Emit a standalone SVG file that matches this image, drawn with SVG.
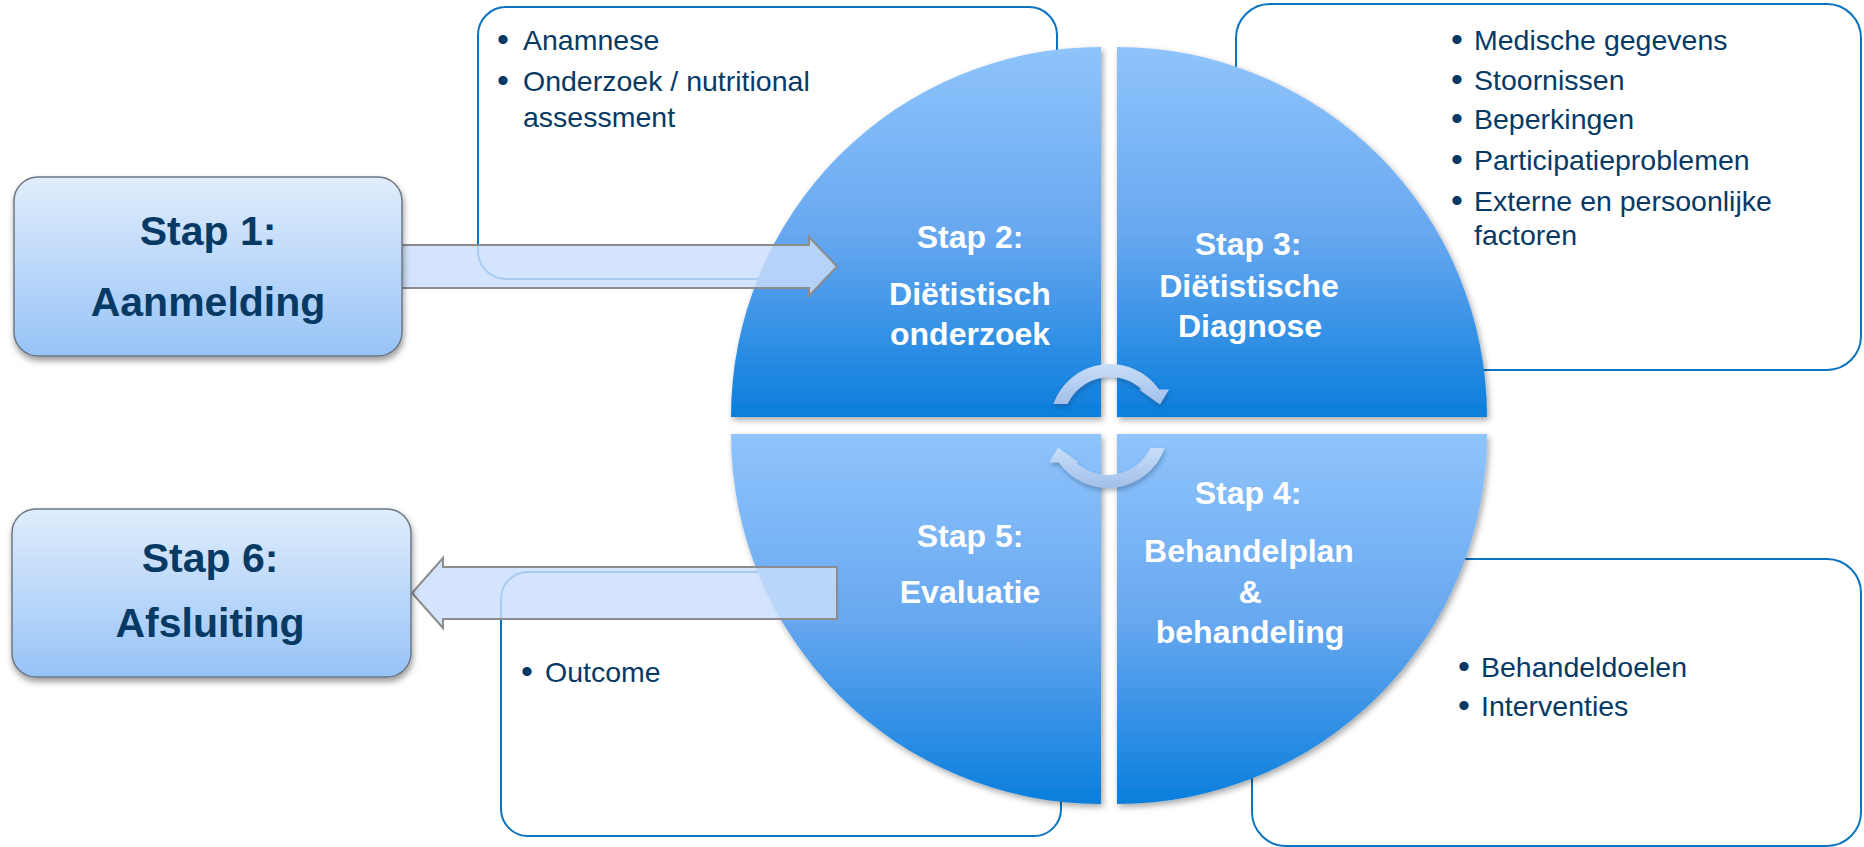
<svg xmlns="http://www.w3.org/2000/svg" width="1864" height="847" viewBox="0 0 1864 847">
<defs>
<linearGradient id="qGrad" x1="0" y1="0" x2="0" y2="1">
<stop offset="0" stop-color="#8fc4fc"/>
<stop offset="0.5" stop-color="#68a8f0"/>
<stop offset="1" stop-color="#0a7edc"/>
</linearGradient>
<linearGradient id="nodeGrad" x1="0" y1="0" x2="0" y2="1">
<stop offset="0" stop-color="#e0edfc"/>
<stop offset="1" stop-color="#97c3f7"/>
</linearGradient>
<linearGradient id="cycGrad" x1="0" y1="0" x2="0" y2="1">
<stop offset="0" stop-color="#c8def9"/>
<stop offset="1" stop-color="#a2bfe8"/>
</linearGradient>
<filter id="shadow" x="-10%" y="-10%" width="125%" height="125%">
<feDropShadow dx="2" dy="3" stdDeviation="3" flood-color="#000" flood-opacity="0.35"/>
</filter>
<filter id="nodeShadow" x="-10%" y="-10%" width="125%" height="130%">
<feDropShadow dx="1" dy="4" stdDeviation="3" flood-color="#000" flood-opacity="0.4"/>
</filter>
<filter id="cycShadow" x="-20%" y="-20%" width="150%" height="160%">
<feDropShadow dx="1" dy="3" stdDeviation="2" flood-color="#203a60" flood-opacity="0.35"/>
</filter>
<style>
.box{fill:#fff;stroke:#0b74c1;stroke-width:2}
.quad{fill:url(#qGrad);filter:url(#shadow)}
.cyc{fill:url(#cycGrad);filter:url(#cycShadow)}
.big{fill:#c9defb;fill-opacity:0.82;stroke:#8c8c8c;stroke-width:2;stroke-linejoin:miter}
.node{fill:url(#nodeGrad);stroke:#6b7886;stroke-width:1.5;filter:url(#nodeShadow)}
.ntxt{font-family:"Liberation Sans",Arial,sans-serif;font-weight:bold;font-size:41px;fill:#063a64;text-anchor:middle}
.qtxt{font-family:"Liberation Sans",Arial,sans-serif;font-weight:bold;font-size:32px;fill:#fff;text-anchor:middle}
.btxt{font-family:"Liberation Sans",Arial,sans-serif;font-size:28.5px;fill:#063a64}
.bul{font-family:"Liberation Sans",Arial,sans-serif;font-size:34px;fill:#063a64;text-anchor:middle}
</style>
</defs>

<g id="box-onderzoek">
<rect class="box" x="478" y="7" width="579" height="272" rx="28"/>
<text class="bul" x="503" y="51">•</text><text class="btxt" x="523" y="50">Anamnese</text>
<text class="bul" x="503" y="92">•</text><text class="btxt" x="523" y="91">Onderzoek / nutritional</text>
<text class="btxt" x="523" y="127">assessment</text>
</g>
<g id="box-diagnose">
<rect class="box" x="1236" y="4" width="625" height="366" rx="34"/>
<text class="bul" x="1457" y="51">•</text><text class="btxt" x="1474" y="50">Medische gegevens</text>
<text class="bul" x="1457" y="91">•</text><text class="btxt" x="1474" y="90">Stoornissen</text>
<text class="bul" x="1457" y="130">•</text><text class="btxt" x="1474" y="129">Beperkingen</text>
<text class="bul" x="1457" y="171">•</text><text class="btxt" x="1474" y="170">Participatieproblemen</text>
<text class="bul" x="1457" y="212">•</text><text class="btxt" x="1474" y="211">Externe en persoonlijke</text>
<text class="btxt" x="1474" y="245">factoren</text>
</g>
<g id="box-evaluatie">
<rect class="box" x="501" y="572" width="560" height="264" rx="27"/>
<text class="bul" x="527" y="683">•</text><text class="btxt" x="545" y="682">Outcome</text>
</g>
<g id="box-behandeling">
<rect class="box" x="1252" y="559" width="609" height="287" rx="34"/>
<text class="bul" x="1464" y="678">•</text><text class="btxt" x="1481" y="677">Behandeldoelen</text>
<text class="bul" x="1464" y="717">•</text><text class="btxt" x="1481" y="716">Interventies</text>
</g>

<g id="stap2">
<path class="quad" d="M1101,417 L731,417 A370,370 0 0 1 1101,47 Z"/>
<text class="qtxt" x="970" y="248">Stap 2:</text>
<text class="qtxt" x="970" y="305">Diëtistisch</text>
<text class="qtxt" x="970" y="345">onderzoek</text>
</g>
<g id="stap3">
<path class="quad" d="M1117,417 L1117,47 A370,370 0 0 1 1487,417 Z"/>
<text class="qtxt" x="1248" y="255">Stap 3:</text>
<text class="qtxt" x="1249" y="297">Diëtistische</text>
<text class="qtxt" x="1250" y="337">Diagnose</text>
</g>
<g id="stap4">
<path class="quad" d="M1117,434 L1487,434 A370,370 0 0 1 1117,804 Z"/>
<text class="qtxt" x="1248" y="504">Stap 4:</text>
<text class="qtxt" x="1249" y="562">Behandelplan</text>
<text class="qtxt" x="1250" y="603">&amp;</text>
<text class="qtxt" x="1250" y="643">behandeling</text>
</g>
<g id="stap5">
<path class="quad" d="M1101,434 L1101,804 A370,370 0 0 1 731,434 Z"/>
<text class="qtxt" x="970" y="547">Stap 5:</text>
<text class="qtxt" x="970" y="603">Evaluatie</text>
</g>

<g id="connectors">
<path class="cyc" d="M1053.4,404 A60,60 0 0 1 1159.1,389.5 L1169,389.5 L1160,404.5 L1139,389.5 L1141.9,389.5 A47,47 0 0 0 1067.5,404 Z"/>
<path class="cyc" d="M1164.6,448 A60,60 0 0 1 1058.9,462.5 L1049,462.5 L1058,447.5 L1079,462.5 L1076.1,462.5 A47,47 0 0 0 1150.5,448 Z"/>
<path class="big" d="M396,245 L809,245 L809,237 L837,266.5 L809,296 L809,288 L396,288 Z"/>
<path class="big" d="M837,567 L443,567 L443,558 L412,593 L443,628 L443,619 L837,619 Z"/>
</g>

<g id="stap1">
<rect class="node" x="14" y="177" width="388" height="179" rx="24"/>
<text class="ntxt" x="208" y="245">Stap 1:</text>
<text class="ntxt" x="208" y="316">Aanmelding</text>
</g>
<g id="stap6">
<rect class="node" x="12" y="509" width="399" height="168" rx="24"/>
<text class="ntxt" x="210" y="572">Stap 6:</text>
<text class="ntxt" x="210" y="637">Afsluiting</text>
</g>
</svg>
